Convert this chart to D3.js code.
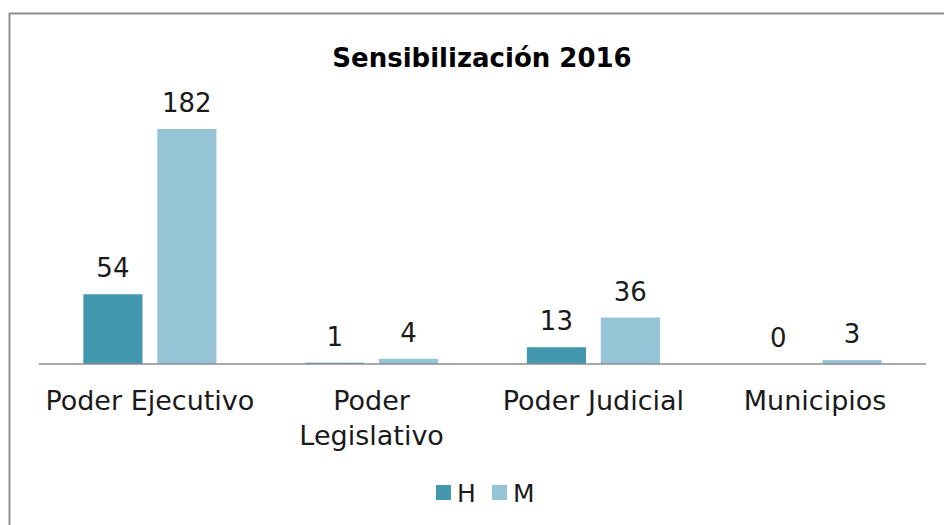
<!DOCTYPE html>
<html>
<head>
<meta charset="utf-8">
<script src="https://cdn.jsdelivr.net/npm/d3@7"></script>
<style>
  html, body { margin: 0; padding: 0; background: #fff; }
  svg { display: block; }
  text { font-family: "DejaVu Sans", sans-serif; fill: #1a1a1a; }
</style>
</head>
<body>
<svg id="chart" width="944" height="525"></svg>
<script>
const title = "Sensibilización 2016";
const categories = ["Poder Ejecutivo", "Poder Legislativo", "Poder Judicial", "Municipios"];
const seriesNames = ["H", "M"];
const valuesH = [54, 1, 13, 0];
const valuesM = [182, 4, 36, 3];
const colors = { H: "#4398af", M: "#94c4d6" };

const svg = d3.select("#chart");
const W = 944, H = 525;

// chart frame (extends beyond the visible area on right and bottom)
svg.append("rect")
  .attr("x", 9.5).attr("y", 13.5)
  .attr("width", W + 20).attr("height", H + 20)
  .attr("fill", "#fff").attr("stroke", "#8e8e8e").attr("stroke-width", 2);

const plot = { left: 39, right: 926, base: 364 };

const x0 = d3.scaleBand().domain(categories).range([plot.left, plot.right]).padding(0);
const x1 = d3.scaleBand().domain(seriesNames).range([0, x0.bandwidth()])
  .paddingInner(0.2).paddingOuter(0.6);
const y = d3.scaleLinear().domain([0, 182]).range([plot.base, 129]);

const data = categories.map((c, i) => ({ cat: c, H: valuesH[i], M: valuesM[i] }));

// title
svg.append("text")
  .attr("x", 482).attr("y", 67)
  .attr("text-anchor", "middle")
  .style("font-weight", "bold").style("font-size", "26px")
  .style("fill", "#000")
  .text(title);

const groups = svg.append("g").selectAll("g").data(data).join("g")
  .attr("transform", d => `translate(${x0(d.cat)},0)`);

groups.selectAll("rect").data(d => seriesNames.map(s => ({ s, v: d[s] }))).join("rect")
  .attr("x", d => x1(d.s))
  .attr("width", x1.bandwidth())
  .attr("y", d => y(d.v))
  .attr("height", d => plot.base - y(d.v))
  .attr("fill", d => colors[d.s]);

groups.selectAll("text.val").data(d => seriesNames.map(s => ({ s, v: d[s] }))).join("text")
  .attr("class", "val")
  .attr("x", d => x1(d.s) + x1.bandwidth() / 2)
  .attr("y", d => y(d.v) - 17)
  .attr("text-anchor", "middle")
  .style("font-size", "26px")
  .text(d => d.v);

// baseline axis
svg.append("line")
  .attr("x1", plot.left).attr("x2", plot.right)
  .attr("y1", plot.base).attr("y2", plot.base)
  .attr("stroke", "#8e8e8e").attr("stroke-width", 1.5);

// category labels with wrapping
const catG = svg.append("g");
categories.forEach(c => {
  const cx = x0(c) + x0.bandwidth() / 2;
  const t = catG.append("text")
    .attr("x", cx).attr("y", 410)
    .attr("text-anchor", "middle")
    .style("font-size", "27px")
    .text(c);
  if (t.node().getComputedTextLength() > x0.bandwidth() - 6) {
    const words = c.split(" ");
    t.text(null);
    words.forEach((w, k) => {
      t.append("tspan").attr("x", cx).attr("dy", k === 0 ? 0 : 35).text(w);
    });
  }
});

// legend
const legendX = [436, 492];
const lg = svg.append("g");
seriesNames.forEach((s, i) => {
  lg.append("rect")
    .attr("x", legendX[i]).attr("y", 485)
    .attr("width", 15).attr("height", 15)
    .attr("fill", colors[s]);
  lg.append("text")
    .attr("x", legendX[i] + 21).attr("y", 502)
    .style("font-size", "25px")
    .text(s);
});
</script>
</body>
</html>
